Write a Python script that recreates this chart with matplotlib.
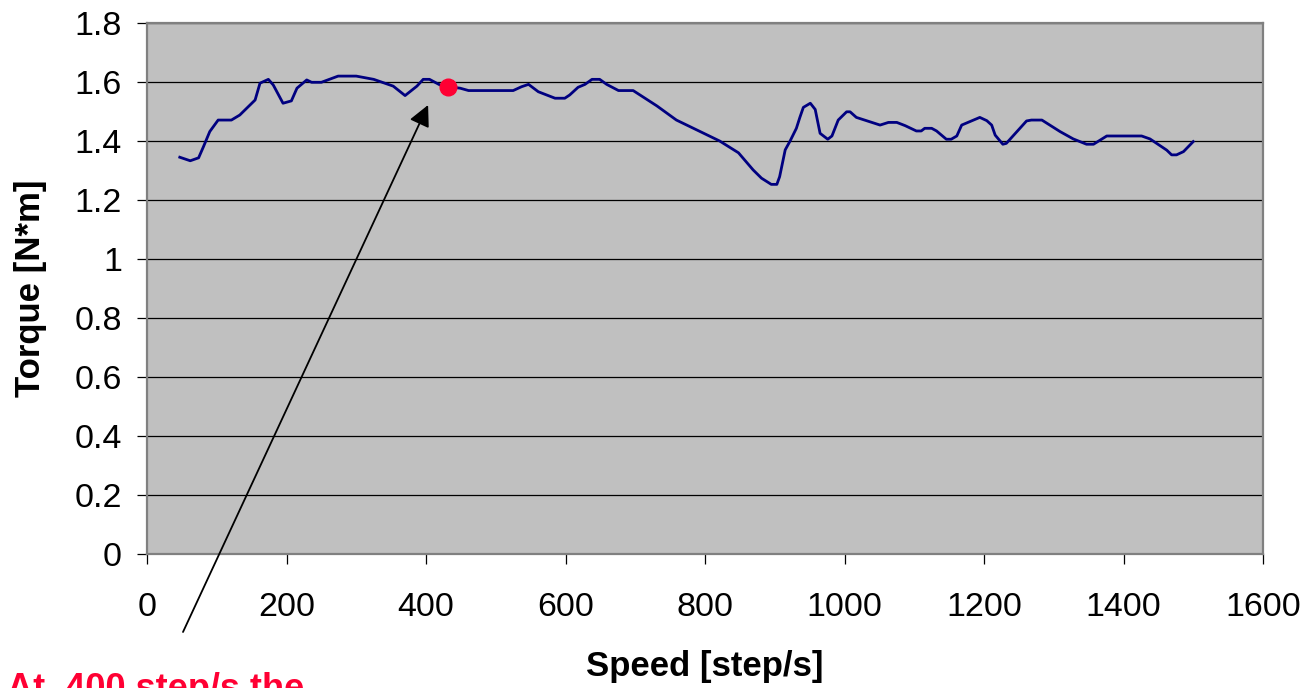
import matplotlib
matplotlib.use('Agg')
import matplotlib.pyplot as plt
import numpy as np

plt.rcParams['font.family'] = ['Liberation Sans', 'DejaVu Sans']

# Speed [step/s] and torque [N*m]
speed = [47, 62, 74, 81, 90, 102, 121, 133, 155, 162, 174, 181, 195, 207, 215,
         229, 236, 250, 274, 300, 325, 353, 370, 387, 396, 405, 420, 432, 449,
         461, 525, 537, 547, 561, 585, 599, 606, 618, 628, 638, 649, 659, 676,
         697, 731, 759, 821, 848, 869, 881, 895, 903, 907, 915, 922, 931, 936,
         941, 951, 958, 965, 976, 982, 991, 1003, 1008, 1017, 1051, 1063, 1075,
         1087, 1103, 1110, 1115, 1125, 1132, 1146, 1153, 1161, 1168, 1180, 1194,
         1204, 1211, 1216, 1227, 1232, 1261, 1268, 1283, 1309, 1328, 1347, 1357,
         1376, 1426, 1438, 1462, 1469, 1476, 1486, 1500]
torque = [1.345, 1.333, 1.343, 1.381, 1.432, 1.471, 1.471, 1.488, 1.539, 1.596,
          1.609, 1.59, 1.528, 1.536, 1.579, 1.607, 1.599, 1.599, 1.62, 1.62,
          1.609, 1.586, 1.554, 1.586, 1.609, 1.609, 1.59, 1.584, 1.579, 1.571,
          1.571, 1.584, 1.592, 1.567, 1.545, 1.545, 1.556, 1.582, 1.592, 1.609,
          1.609, 1.592, 1.571, 1.571, 1.519, 1.471, 1.4, 1.36, 1.302, 1.274,
          1.253, 1.253, 1.279, 1.37, 1.40, 1.443, 1.48, 1.514, 1.528, 1.507,
          1.426, 1.406, 1.417, 1.471, 1.499, 1.499, 1.48, 1.454, 1.463, 1.463,
          1.452, 1.434, 1.434, 1.443, 1.443, 1.434, 1.406, 1.406, 1.417, 1.454,
          1.466, 1.48, 1.469, 1.454, 1.42, 1.389, 1.392, 1.468, 1.471, 1.471,
          1.432, 1.407, 1.389, 1.389, 1.417, 1.417, 1.407, 1.369, 1.353, 1.353,
          1.364, 1.398]

mark_speed = 432
mark_torque = 1.584
arrow_tip = (403, 1.522)
note = 'At  400 step/s the'

xticks = np.arange(0, 1601, 200)
yticks = np.arange(0, 1.81, 0.2)
ylabels = ['0', '0.2', '0.4', '0.6', '0.8', '1', '1.2', '1.4', '1.6', '1.8']

fig = plt.figure(figsize=(13.07, 6.88), dpi=100)
ax = fig.add_axes([147/1307, 1 - 554/688, 1116/1307, 531/688])
ax.set_facecolor('#c0c0c0')

ax.plot(speed, torque, color='#000080', lw=2.0, zorder=3)
ax.plot(mark_speed, mark_torque, 'o', color='#ff0033', ms=12, zorder=4)

ax.set_xlim(0, 1600)
ax.set_ylim(0, 1.8)
ax.set_xticks(xticks)
ax.set_yticks(yticks)
ax.set_yticklabels(ylabels)
ax.grid(axis='y', color='black', lw=0.9)
ax.set_axisbelow(True)

for s in ax.spines.values():
    s.set_color('#808080')
    s.set_linewidth(1.6)

ax.tick_params(direction='out', length=7, width=0.9, color='black',
               labelsize=24.5)
ax.tick_params(axis='y', pad=11)
ax.tick_params(axis='x', pad=20)

ax.set_xlabel('Speed [step/s]', fontsize=25, fontweight='bold', labelpad=20)
ax.set_ylabel('Torque [N*m]', fontsize=25, fontweight='bold', labelpad=20)

# the arrow starts below the axes, near the note text
ax.annotate('', xy=arrow_tip, xycoords='data',
            xytext=(183/1307, 56/688), textcoords='figure fraction',
            arrowprops=dict(arrowstyle='-|>', color='black', lw=1.3,
                            mutation_scale=32, shrinkA=0, shrinkB=0),
            annotation_clip=False)

fig.text(7/1307, -0.016, note, color='#ff0033', fontsize=26,
         fontweight='bold', ha='left', va='baseline')

fig.savefig('out.png', dpi=100)
